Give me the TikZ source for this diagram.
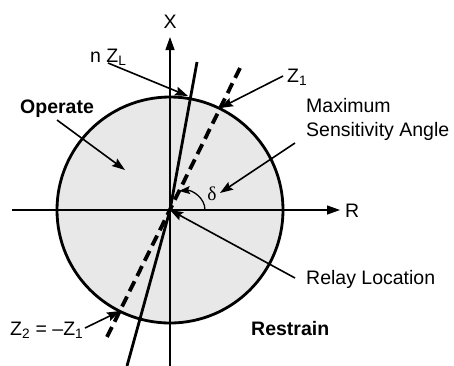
\documentclass[tikz,border=0pt]{standalone}
\usepackage{fontspec}
\setmainfont{Liberation Sans}
\newfontfamily\greekserif{Liberation Serif}
\usetikzlibrary{arrows.meta}
\definecolor{zonefill}{RGB}{232,232,232}
\begin{document}
\begin{tikzpicture}[x=1pt,y=-1pt,
  lbl/.style={inner sep=0pt,font=\fontsize{19.5}{24}\selectfont},
  bold/.style={lbl,font=\fontsize{19.5}{24}\selectfont\bfseries},
  axis/.style={line width=1.3pt,-{Triangle[length=13pt,width=9pt]}},
  callout/.style={line width=1.6pt,-{Stealth[length=13pt,width=9pt,inset=2pt]}},
  zline/.style={line width=2.8pt},
  zdash/.style={line width=3.8pt,dash pattern=on 11pt off 6pt}]
\useasboundingbox (0,0) rectangle (454,365);
% zone
\coordinate (O) at (170,210);
\fill[zonefill] (O) circle (113);
% axes
\coordinate (xl) at (12,210);
\coordinate (xr) at (340,210);
\coordinate (yb) at (170,366);
\coordinate (yt) at (170,37);
\draw[axis] (xl) -- (xr);
\draw[axis] (yb) -- (yt);
\node[lbl,anchor=base west] (R) at (345,217) {R};
\node[lbl,anchor=base] (X) at (170,28) {X};
% lines
\coordinate (ZLtop) at (197,62);
\coordinate (ZLbot) at (127,366);
\draw[zline] (ZLtop) -- (O) -- (ZLbot);
\coordinate (Z1top) at (240,68);
\coordinate (Z1bot) at (106,339);
\draw[zdash] (Z1top) -- (Z1bot);
% circle border
\draw[line width=2.8pt] (O) circle (113);
% labels
\node[lbl,anchor=base west] (nZL) at (90,62) {n Z\textsubscript{L}};
\node[lbl,anchor=base west] (Z1) at (287,82) {Z\textsubscript{1}};
\node[lbl,anchor=base west,align=left] (MSA) at (306,136) {Maximum\\[-0.5pt]Sensitivity Angle};
\node[lbl,anchor=base west] (RL) at (306,284) {Relay Location};
\node[bold,anchor=base west] (Op) at (20,113) {Operate};
\node[bold,anchor=base west] (Re) at (251,335) {Restrain};
\node[lbl,anchor=base west] (Z2) at (10,335) {Z\textsubscript{2} = \textendash Z\textsubscript{1}};
\node[lbl,font=\fontsize{19.5}{24}\greekserif] (delta) at (212,194) {δ};
% callout endpoints
\coordinate (nZLs) at (108,63);
\coordinate (nZLe) at (188,96);
\coordinate (Z1s) at (283,76);
\coordinate (Z1e) at (220,108);
\coordinate (MSAs) at (295,143);
\coordinate (MSAe) at (220,193);
\coordinate (RLs) at (295,278);
\coordinate (Ops) at (57,120);
\coordinate (Ope) at (125,170);
\coordinate (Z2s) at (85,328);
\coordinate (Z2e) at (120,311);
\draw[callout] (nZLs) -- (nZLe);
\draw[callout] (Z1s) -- (Z1e);
\draw[callout] (MSAs) -- (MSAe);
\draw[callout] (RLs) -- (O);
\draw[callout] (Ops) -- (Ope);
\draw[callout] (Z2s) -- (Z2e);
% delta arc
\coordinate (da) at (205,210);
\coordinate (db) at (179,191);
\draw[line width=1.3pt,-{Stealth[length=11pt,width=8pt,inset=2pt]}] (da) to[out=90,in=5] (db);
\end{tikzpicture}
\end{document}
